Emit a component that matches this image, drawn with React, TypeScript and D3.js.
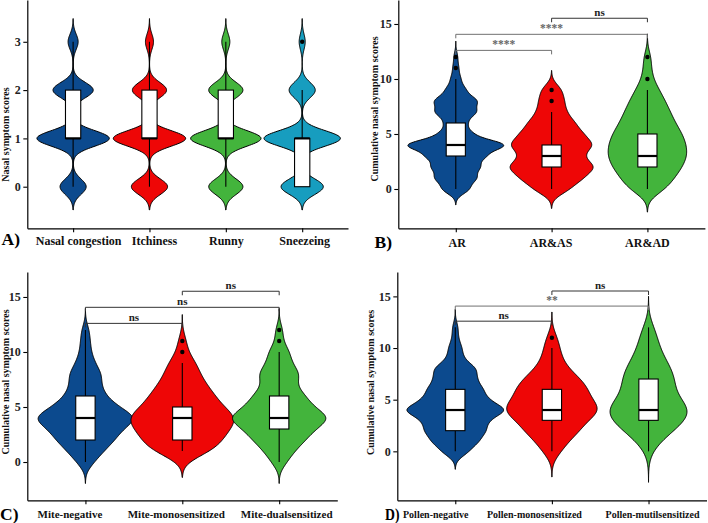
import React, { useEffect, useRef } from 'react';
import * as d3 from 'd3';

interface BoxStat {
  q1: number;
  median: number;
  q3: number;
  lo: number;
  hi: number;
  outliers: number[];
}

interface Bracket {
  a: number;
  b: number;
  label: string;
}

// counts per score (index = score), box stats, kde bandwidths

// A) individual nasal symptoms
const symptomCategories = ['Nasal congestion', 'Itchiness', 'Runny', 'Sneezeing'];
const symptomCounts = [
  [13, 36, 20, 5],
  [18, 36, 17, 4],
  [17, 35, 17, 4],
  [21, 38, 13, 3],
];
const symptomBoxes: BoxStat[] = [
  { q1: 1, median: 1, q3: 2, lo: 0, hi: 3, outliers: [] },
  { q1: 1, median: 1, q3: 2, lo: 0, hi: 3, outliers: [] },
  { q1: 1, median: 1, q3: 2, lo: 0, hi: 3, outliers: [] },
  { q1: 0, median: 1, q3: 1, lo: 0, hi: 2, outliers: [3] },
];
const symptomBandwidths = [0.16, 0.16, 0.16, 0.16];
const symptomTicks = [0, 1, 2, 3];

// B) comorbidity
const comorbidCategories = ['AR', 'AR&AS', 'AR&AD'];
const comorbidCounts = [
  [14, 21, 24, 29, 52, 16, 11, 21, 22, 10, 5, 3, 2],
  [19, 32, 46, 30, 44, 32, 24, 15, 13, 11],
  [19, 27, 35, 40, 39, 35, 28, 23, 18, 12, 6, 4, 4],
];
const comorbidBoxes: BoxStat[] = [
  { q1: 3, median: 4, q3: 6, lo: 0, hi: 10, outliers: [11, 12] },
  { q1: 2, median: 3, q3: 4, lo: 0, hi: 7, outliers: [8, 9] },
  { q1: 2, median: 3, q3: 5, lo: 0, hi: 9, outliers: [10, 12] },
];
const comorbidBandwidths = [0.48, 0.59, 0.7];
const comorbidBrackets: Bracket[] = [
  { a: 0, b: 1, label: '****' },
  { a: 0, b: 2, label: '****' },
  { a: 1, b: 2, label: 'ns' },
];

// C) mite sensitization
const miteCategories = ['Mite-negative', 'Mite-monosensitized', 'Mite-dualsensitized'];
const miteCounts = [
  [9, 19, 30, 38, 55, 34, 21, 16, 17, 10, 6, 5, 4],
  [0, 33, 41, 48, 59, 41, 34, 25, 18, 15, 5, 5],
  [8, 16, 27, 37, 54, 35, 27, 17, 22, 13, 11, 4, 4],
];
const miteBoxes: BoxStat[] = [
  { q1: 2, median: 4, q3: 6, lo: 0, hi: 12, outliers: [] },
  { q1: 2, median: 4, q3: 5, lo: 1, hi: 9, outliers: [10, 11] },
  { q1: 3, median: 4, q3: 6, lo: 0, hi: 10, outliers: [11, 12] },
];
const miteBandwidths = [0.65, 0.8, 0.65];
const miteBrackets: Bracket[] = [
  { a: 0, b: 1, label: 'ns' },
  { a: 0, b: 2, label: 'ns' },
  { a: 1, b: 2, label: 'ns' },
];

// D) pollen sensitization
const pollenCategories = ['Pollen-negative', 'Pollen-monosensitized', 'Pollen-mutilsensitized'];
const pollenCounts = [
  [14, 24, 31, 32, 54, 32, 28, 21, 22, 8, 7, 3, 3],
  [10, 16, 29, 33, 54, 37, 37, 29, 16, 10, 8, 6],
  [3, 12, 25, 37, 46, 30, 25, 27, 23, 16, 11, 9, 6],
];
const pollenBoxes: BoxStat[] = [
  { q1: 2, median: 4, q3: 6, lo: 0, hi: 12, outliers: [] },
  { q1: 3, median: 4, q3: 6, lo: 0, hi: 10, outliers: [11] },
  { q1: 3, median: 4, q3: 7, lo: 0, hi: 12, outliers: [] },
];
const pollenBandwidths = [0.58, 0.83, 1.0];
const pollenBrackets: Bracket[] = [
  { a: 0, b: 1, label: 'ns' },
  { a: 0, b: 2, label: '**' },
  { a: 1, b: 2, label: 'ns' },
];

const cumulativeTicks = [0, 5, 10, 15];

const COLORS = ['#0c4a8e', '#ee0606', '#43b43c', '#179dbf'];
const FONT = "'Liberation Serif', 'Times New Roman', serif";

interface Panel {
  tag: string;
  title: string;
  categories: string[];
  counts: number[][];
  boxes: BoxStat[];
  bandwidths: number[];
  ticks: number[];
  brackets: Bracket[];
  left: number;
  right: number;
  top: number;
  bottom: number;
  domain: [number, number];
  widthFrac: number;
  labelSize: number;
  labelBaseline: number;
  labelShift: number[];
  tagX: number;
  tagBaseline: number;
  tagWidth?: number;
  titleX: number;
  titleY: number;
}

const panels: Panel[] = [
  {
    tag: 'A)', title: 'Nasal symptom scores',
    categories: symptomCategories, counts: symptomCounts, boxes: symptomBoxes,
    bandwidths: symptomBandwidths, ticks: symptomTicks, brackets: [],
    left: 27.3, right: 348, top: 0, bottom: 228.3, domain: [-0.861, 3.865],
    widthFrac: 0.5, labelSize: 12, labelBaseline: 245, labelShift: [5, 4.5, 0, 2],
    tagX: 1.5, tagBaseline: 245, titleX: 8.5, titleY: 134.5,
  },
  {
    tag: 'B)', title: 'Cumulative nasal symptom scores',
    categories: comorbidCategories, counts: comorbidCounts, boxes: comorbidBoxes,
    bandwidths: comorbidBandwidths, ticks: cumulativeTicks, brackets: comorbidBrackets,
    left: 398.3, right: 704.9, top: 0, bottom: 228.3, domain: [-3.573, 17.18],
    widthFrac: 0.5, labelSize: 12, labelBaseline: 247, labelShift: [1, -1, -0.5],
    tagX: 374.5, tagBaseline: 247.5, titleX: 377.5, titleY: 109,
  },
  {
    tag: 'C)', title: 'Cumulative nasal symptom scores',
    categories: miteCategories, counts: miteCounts, boxes: miteBoxes,
    bandwidths: miteBandwidths, ticks: cumulativeTicks, brackets: miteBrackets,
    left: 27.3, right: 337.3, top: 272, bottom: 500.3, domain: [-3.48, 17.27],
    widthFrac: 0.53, labelSize: 11, labelBaseline: 518.5, labelShift: [-16, -6.5, 7],
    tagX: 0, tagBaseline: 520, titleX: 8.5, titleY: 382,
  },
  {
    tag: 'D)', title: 'Cumulative nasal symptom scores',
    categories: pollenCategories, counts: pollenCounts, boxes: pollenBoxes,
    bandwidths: pollenBandwidths, ticks: cumulativeTicks, brackets: pollenBrackets,
    left: 397.3, right: 706.5, top: 272, bottom: 500.3, domain: [-4.74, 17.36],
    widthFrac: 0.5, labelSize: 10, labelBaseline: 518, labelShift: [-20, -18, 3.5],
    tagX: 385, tagBaseline: 520, tagWidth: 14.5, titleX: 374, titleY: 382.5,
  },
];

// gaussian kde over integer scores, scaled by count (like ggplot scale = "count")
function kde(counts: number[], bw: number): [number, number][] {
  const scores = counts.map((c, i) => (c > 0 ? i : NaN)).filter((v) => !isNaN(v));
  const lo = d3.min(scores)! - 3 * bw;
  const hi = d3.max(scores)! + 3 * bw;
  const n = 240;
  const norm = 1 / (bw * Math.sqrt(2 * Math.PI));
  return d3.range(n + 1).map((i) => {
    const v = lo + ((hi - lo) * i) / n;
    const dens = d3.sum(counts, (c, k) => c * Math.exp(-0.5 * ((v - k) / bw) ** 2) * norm);
    return [v, dens];
  });
}

function drawPanel(svg: d3.Selection<SVGSVGElement, unknown, null, undefined>, p: Panel) {
  const x = d3.scalePoint<string>().domain(p.categories).range([p.left, p.right]).padding(0.6);
  const y = d3.scaleLinear().domain(p.domain).range([p.bottom, p.top]);
  const step = x.step();
  const g = svg.append('g');

  const dens = p.counts.map((c, i) => kde(c, p.bandwidths[i]));
  const maxD = d3.max(dens.flat(), (d) => d[1])!;
  const k = (p.widthFrac * step) / maxD;

  p.categories.forEach((cat, i) => {
    const cx = x(cat)!;
    const area = d3
      .area<[number, number]>()
      .x0((d) => cx - d[1] * k)
      .x1((d) => cx + d[1] * k)
      .y((d) => y(d[0]));
    g.append('path')
      .attr('d', area(dens[i]))
      .attr('fill', COLORS[i])
      .attr('stroke', '#000')
      .attr('stroke-width', 1);

    const b = p.boxes[i];
    const bw = step * 0.2;
    g.append('line')
      .attr('x1', cx).attr('x2', cx)
      .attr('y1', y(b.lo)).attr('y2', y(b.q1))
      .attr('stroke', '#000').attr('stroke-width', 1.1);
    g.append('line')
      .attr('x1', cx).attr('x2', cx)
      .attr('y1', y(b.q3)).attr('y2', y(b.hi))
      .attr('stroke', '#000').attr('stroke-width', 1.1);
    g.append('rect')
      .attr('x', cx - bw / 2)
      .attr('y', y(b.q3))
      .attr('width', bw)
      .attr('height', y(b.q1) - y(b.q3))
      .attr('fill', '#fff')
      .attr('stroke', '#000')
      .attr('stroke-width', 1.1);
    g.append('line')
      .attr('x1', cx - bw / 2).attr('x2', cx + bw / 2)
      .attr('y1', y(b.median)).attr('y2', y(b.median))
      .attr('stroke', '#000').attr('stroke-width', 2.2);
    b.outliers.forEach((o) => {
      g.append('circle')
        .attr('cx', cx).attr('cy', y(o)).attr('r', 2.2)
        .attr('fill', '#000');
    });
  });

  // significance brackets
  p.brackets.forEach((br, level) => {
    const yv = y(12.6 + 1.46 * level);
    const xa = x(p.categories[br.a])!;
    const xb = x(p.categories[br.b])!;
    const isNs = br.label === 'ns';
    const col = isNs ? '#333' : '#707070';
    g.append('path')
      .attr('d', `M${xa},${yv + 4}V${yv}H${xb}V${yv + 4}`)
      .attr('fill', 'none')
      .attr('stroke', col)
      .attr('stroke-width', 1);
    g.append('text')
      .attr('x', (xa + xb) / 2)
      .attr('y', yv - 2.5)
      .attr('text-anchor', 'middle')
      .attr('font-family', FONT)
      .attr('font-weight', 'bold')
      .attr('font-size', isNs ? 11 : 11.5)
      .attr('fill', isNs ? '#222' : '#666')
      .text(br.label);
  });

  // axes
  const yAxis = g
    .append('g')
    .attr('transform', `translate(${p.left},0)`)
    .call(d3.axisLeft(y).tickValues(p.ticks).tickSize(4).tickSizeOuter(0).tickPadding(2.5).tickFormat(d3.format('d')));
  yAxis.select('.domain').attr('stroke-width', 1.2);
  yAxis.selectAll('.tick line').attr('stroke-width', 1.1);
  yAxis
    .selectAll('text')
    .attr('font-family', FONT)
    .attr('font-weight', 'bold')
    .attr('font-size', 12)
    .attr('fill', '#222');

  const xAxis = g
    .append('g')
    .attr('transform', `translate(0,${p.bottom})`)
    .call(d3.axisBottom(x).tickSize(4).tickSizeOuter(0));
  xAxis.select('.domain').attr('stroke-width', 1.2);
  xAxis.selectAll('.tick line').attr('stroke-width', 1.1);
  xAxis
    .selectAll<SVGTextElement, string>('text')
    .attr('x', (_, i) => p.labelShift[i])
    .attr('y', p.labelBaseline - p.bottom)
    .attr('dy', null)
    .attr('font-family', FONT)
    .attr('font-weight', 'bold')
    .attr('font-size', p.labelSize)
    .attr('fill', '#111');

  const tag = g
    .append('text')
    .attr('x', p.tagX)
    .attr('y', p.tagBaseline)
    .attr('font-family', FONT)
    .attr('font-weight', 'bold')
    .attr('font-size', 17.5)
    .text(p.tag);
  if (p.tagWidth) {
    tag.attr('textLength', p.tagWidth).attr('lengthAdjust', 'spacingAndGlyphs');
  }

  g.append('text')
    .attr('transform', `translate(${p.titleX},${p.titleY}) rotate(-90)`)
    .attr('text-anchor', 'middle')
    .attr('font-family', FONT)
    .attr('font-weight', 'bold')
    .attr('font-size', 10)
    .attr('fill', '#111')
    .text(p.title);
}

const App: React.FC = () => {
  const svgRef = useRef<SVGSVGElement>(null);

  useEffect(() => {
    if (!svgRef.current) return;
    const svg = d3.select(svgRef.current);
    svg.selectAll('*').remove();
    panels.forEach((p) => drawPanel(svg, p));
  }, []);

  return (
    <svg
      ref={svgRef}
      width={708}
      height={523}
      style={{ position: 'absolute', left: 0, top: 0, background: '#fff' }}
    />
  );
};

export default App;
